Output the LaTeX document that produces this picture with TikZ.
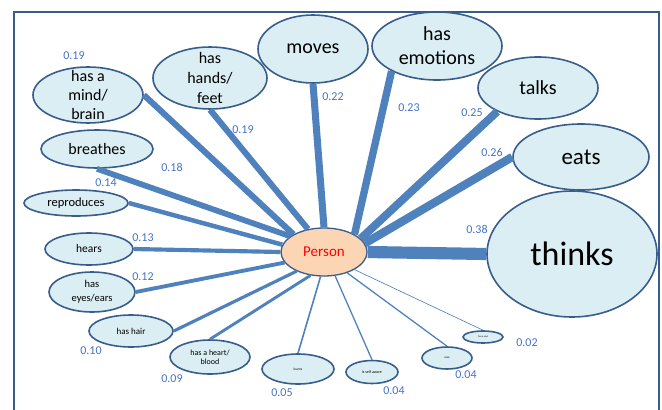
\documentclass[tikz,border=0pt]{standalone}
\usepackage{fontspec}
\setmainfont{Carlito}
\usetikzlibrary{shapes.geometric}
\definecolor{linkblue}{RGB}{79,129,189}
\definecolor{rimblue}{RGB}{56,93,138}
\definecolor{paleblue}{RGB}{219,238,244}
\definecolor{peach}{RGB}{252,213,181}
\definecolor{numblue}{RGB}{68,114,196}
\newcommand{\fs}[2]{\fontsize{#1}{#2}\selectfont}

\begin{document}
\begin{tikzpicture}[x=1pt,y=-1pt,
    trait/.style={ellipse,draw=rimblue,line width=1.6pt,fill=paleblue,inner sep=0pt},
    weight/.style={text=numblue,inner sep=0pt,font=\fs{12}{12}},
    link/.style={draw=linkblue,line width=32*#1}]
  \useasboundingbox (0,0) rectangle (662,410);
  \draw [rimblue,line width=1.3pt] (14,410) -- (14,12) -- (659,12) -- (659,410);

  % the traits, largest first
  \node [trait,fill=peach,line width=1.3pt,minimum width=86pt,minimum height=48pt,
    label={[text=red,font=\fs{15}{18}]center:Person}] (person) at (324,252) {};
  \node [trait,minimum width=170pt,minimum height=126pt,
    label={[font=\fs{34}{40}]center:thinks}] (thinks) at (572,254) {};
  \node [trait,minimum width=136pt,minimum height=66pt,
    label={[font=\fs{23}{27}]center:eats}] (eats) at (581,157) {};
  \node [trait,minimum width=120pt,minimum height=62pt,
    label={[font=\fs{20}{24}]center:talks}] (talks) at (538,88) {};
  \node [trait,minimum width=130pt,minimum height=68pt,
    label={[align=center,font=\fs{20}{24}]center:has\\emotions}] (emotions) at (437,46) {};
  \node [trait,minimum width=110pt,minimum height=68pt,
    label={[font=\fs{20}{24}]center:moves}] (moves) at (313,49) {};
  \node [trait,minimum width=114pt,minimum height=62pt,
    label={[align=center,font=\fs{16}{20}]center:has\\hands/\\feet}] (hands) at (210,78) {};
  \node [trait,minimum width=110pt,minimum height=56pt,
    label={[align=center,font=\fs{16}{19}]center:has a\\mind/\\brain}] (mind) at (88,95) {};
  \node [trait,minimum width=112pt,minimum height=38pt,
    label={[font=\fs{16}{19}]center:breathes}] (breathes) at (97,149) {};
  \node [trait,minimum width=104pt,minimum height=26pt,
    label={[font=\fs{12.5}{15}]center:reproduces}] (reproduces) at (76,203) {};
  \node [trait,minimum width=88pt,minimum height=32pt,
    label={[font=\fs{11.5}{14}]center:hears}] (hears) at (89,249) {};
  \node [trait,minimum width=86pt,minimum height=40pt,
    label={[align=center,font=\fs{10.5}{14}]center:has\\eyes/ears}] (eyes) at (92,292) {};
  \node [trait,minimum width=84pt,minimum height=32pt,
    label={[font=\fs{9}{11}]center:has hair}] (hair) at (131,331) {};
  \node [trait,minimum width=80pt,minimum height=34pt,
    label={[align=center,font=\fs{8}{9.5}]center:has a heart/\\blood}] (heart) at (210,357) {};
  \node [trait,minimum width=72pt,minimum height=30pt,
    label={[font=\fs{3.5}{4}]center:learns}] (learns) at (298,369) {};
  \node [trait,minimum width=52pt,minimum height=23pt,
    label={[font=\fs{4}{5}]center:is self aware}] (aware) at (372,372) {};
  \node [trait,minimum width=50pt,minimum height=22pt,
    label={[font=\fs{3}{4}]center:sees}] (sees) at (447,358) {};
  \node [trait,minimum width=40pt,minimum height=12pt,
    label={[font=\fs{2.5}{3}]center:has a soul}] (soul) at (483,337) {};

  % spokes, width after the weight
  \draw [link=0.38] (person.east) -- (thinks.west);
  \draw [link=0.26] (person.12) -- (eats.west);
  \draw [link=0.25] (person.20) -- (talks.210);
  \draw [link=0.23] (person.30) -- (emotions.209);
  \draw [link=0.22] (person.north) -- (moves.south);
  \draw [link=0.19] (person.125) -- (hands.south);
  \draw [link=0.19] (person.150) -- (mind.east);
  \draw [link=0.18] (person.155) -- (breathes.south);
  \draw [link=0.14] (person.170) -- (reproduces.east);
  \draw [link=0.13] (person.west) -- (hears.east);
  \draw [link=0.12] (person.195) -- (eyes.east);
  \draw [link=0.10] (person.215) -- (hair.east);
  \draw [link=0.09] (person.240) -- (heart.north);
  \draw [link=0.05] (person.262) -- (learns.north);
  \draw [link=0.04] (person.295) -- (aware.north);
  \draw [link=0.04] (person.318) -- (sees.north);
  \draw [link=0.02] (person.330) -- (soul.north);

  % weights
  \node [weight] (w-thinks) at (477,229) {0.38};
  \node [weight] (w-eats) at (492,152) {0.26};
  \node [weight] (w-talks) at (472,113) {0.25};
  \node [weight] (w-emotions) at (409,108) {0.23};
  \node [weight] (w-moves) at (333,97) {0.22};
  \node [weight] (w-hands) at (243,130) {0.19};
  \node [weight] (w-mind) at (74,56) {0.19};
  \node [weight] (w-breathes) at (172,167) {0.18};
  \node [weight] (w-reproduces) at (106,183) {0.14};
  \node [weight] (w-hears) at (143,238) {0.13};
  \node [weight] (w-eyes) at (143,277) {0.12};
  \node [weight] (w-hair) at (91,351) {0.10};
  \node [weight] (w-heart) at (172,379) {0.09};
  \node [weight] (w-learns) at (282,393) {0.05};
  \node [weight] (w-aware) at (394,391) {0.04};
  \node [weight] (w-sees) at (466,375) {0.04};
  \node [weight] (w-soul) at (527,343) {0.02};
\end{tikzpicture}
\end{document}
